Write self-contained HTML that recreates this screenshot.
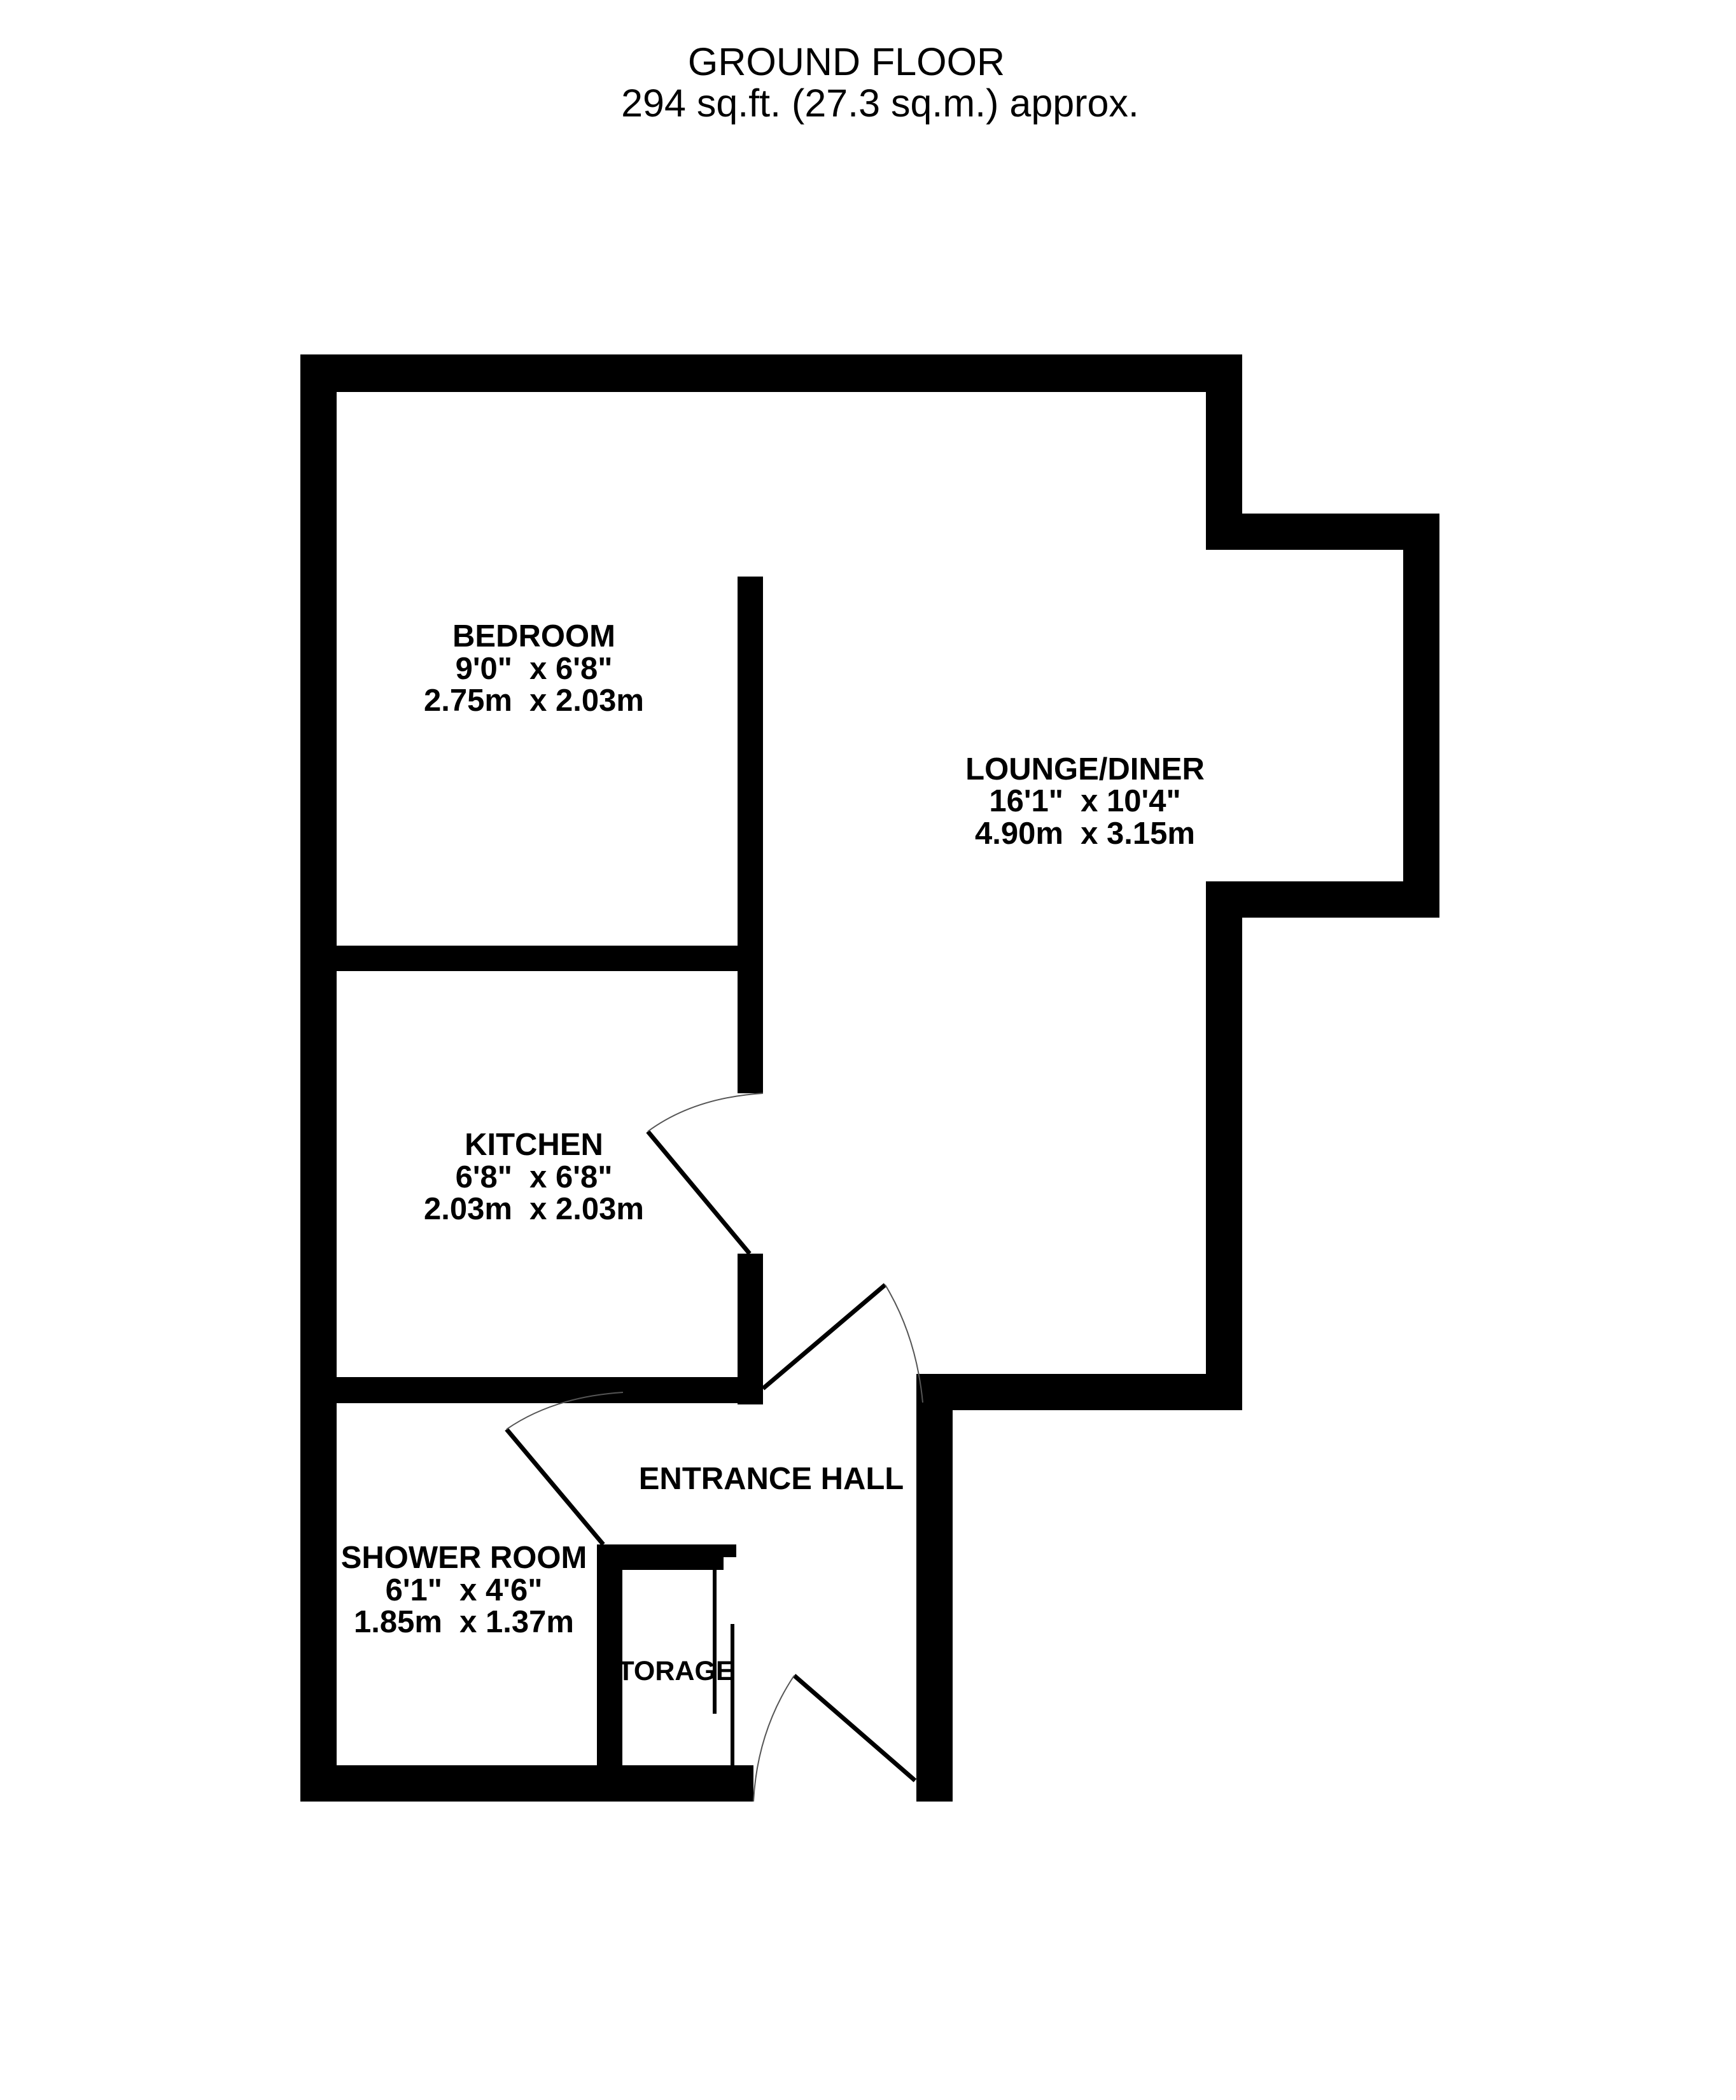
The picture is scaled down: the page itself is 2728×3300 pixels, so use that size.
<!DOCTYPE html>
<html><head><meta charset="utf-8"><style>html,body{margin:0;padding:0;background:#fff}svg{display:block}</style></head>
<body>
<svg width="2728" height="3300" viewBox="0 0 2728 3300" xmlns="http://www.w3.org/2000/svg">
<rect width="2728" height="3300" fill="#fff"/>
<g fill="#000">
<rect x="472" y="557" width="1480" height="59"/>
<rect x="472" y="557" width="57" height="2274"/>
<rect x="1895" y="557" width="57" height="307"/>
<rect x="1895" y="807" width="367" height="57"/>
<rect x="2205" y="807" width="57" height="635"/>
<rect x="1895" y="1385" width="367" height="57"/>
<rect x="1895" y="1385" width="57" height="831"/>
<rect x="1440" y="2159" width="512" height="57"/>
<rect x="1440" y="2159" width="57" height="672"/>
<rect x="1159" y="906" width="40" height="812"/>
<rect x="1159" y="1970" width="40" height="237"/>
<rect x="472" y="1486" width="727" height="40"/>
<rect x="472" y="2164" width="727" height="41"/>
<rect x="472" y="2774" width="712" height="57"/>
<rect x="938" y="2427" width="40" height="404"/>
<rect x="938" y="2427" width="219" height="20"/>
<rect x="938" y="2427" width="199" height="40"/>
</g>
<g stroke="#000" stroke-width="7" fill="none">
<line x1="1018" y1="1778" x2="1178" y2="1970"/>
<line x1="1199" y1="2182" x2="1391" y2="2019"/>
<line x1="796" y1="2246" x2="948" y2="2427"/>
<line x1="1248" y1="2633" x2="1438" y2="2798"/>
<line x1="1123" y1="2467" x2="1123" y2="2693" stroke-width="6"/>
<line x1="1151" y1="2552" x2="1151" y2="2774" stroke-width="6"/>
</g>
<g stroke="#555" stroke-width="2" fill="none">
<path d="M1199 1718 Q1090 1725 1018 1778"/>
<path d="M1391 2019 Q1440 2100 1450 2204"/>
<path d="M979 2188 Q870 2195 796 2246"/>
<path d="M1248 2633 Q1190 2720 1184 2831"/>
</g>
<g font-family="Liberation Sans, sans-serif" text-anchor="middle" fill="#000">
<text x="1330" y="118" font-size="61">GROUND FLOOR</text>
<text x="1383" y="183" font-size="61">294 sq.ft. (27.3 sq.m.) approx.</text>
<g font-weight="bold" font-size="49">
<text x="839" y="1016">BEDROOM</text>
<text x="839" y="1067">9'0"&#160; x 6'8"</text>
<text x="839" y="1117">2.75m&#160; x 2.03m</text>
<text x="1705" y="1225">LOUNGE/DINER</text>
<text x="1705" y="1275">16'1"&#160; x 10'4"</text>
<text x="1705" y="1326">4.90m&#160; x 3.15m</text>
<text x="839" y="1815">KITCHEN</text>
<text x="839" y="1866">6'8"&#160; x 6'8"</text>
<text x="839" y="1916">2.03m&#160; x 2.03m</text>
<text x="1212" y="2340">ENTRANCE HALL</text>
<text x="729" y="2464">SHOWER ROOM</text>
<text x="729" y="2515">6'1"&#160; x 4'6"</text>
<text x="729" y="2565">1.85m&#160; x 1.37m</text>
<text x="1062" y="2640" font-size="43">TORAGE</text>
</g>
</g>
</svg>
</body></html>
